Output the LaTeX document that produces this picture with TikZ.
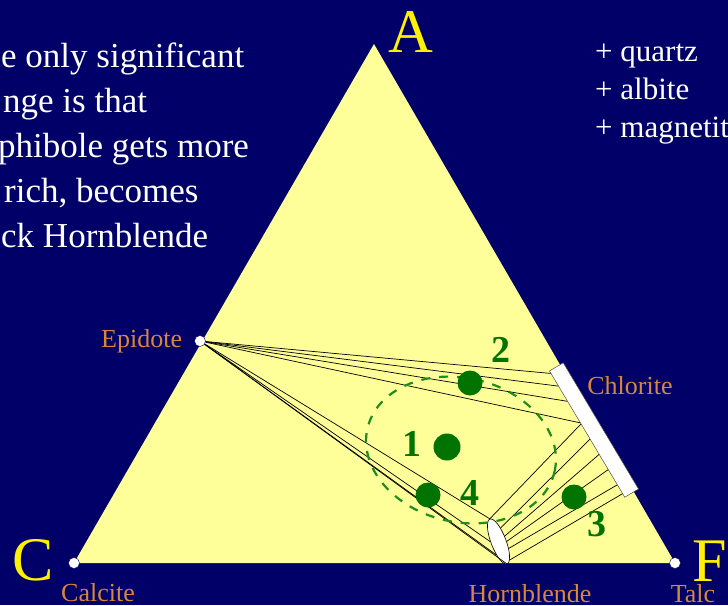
\documentclass[tikz,border=0pt]{standalone}
\usepackage{fontspec}
\setmainfont{Liberation Serif}
\usetikzlibrary{shapes.geometric, calc, positioning}

\definecolor{navy}{RGB}{0,0,104}
\definecolor{paleyellow}{RGB}{255,255,153}
\definecolor{labelorange}{RGB}{215,135,60}
\definecolor{dotgreen}{RGB}{0,115,0}
\definecolor{dashgreen}{RGB}{30,140,30}

\begin{document}
\begin{tikzpicture}[x=1pt, y=-1pt,
    vertex/.style={circle, fill=white, draw=navy, line width=0.4pt, inner sep=0pt, minimum size=11pt},
    corner/.style={text=yellow, font=\fontsize{62}{62}\selectfont, inner sep=0pt},
    mineral/.style={text=labelorange, font=\fontsize{26}{26}\selectfont, inner sep=0pt},
    note/.style={text=white, anchor=base west, inner sep=0pt, font=\fontsize{35}{45}\selectfont},
    extra/.style={text=white, anchor=base west, inner sep=0pt, font=\fontsize{31}{38}\selectfont},
    tie/.style={black, line width=0.7pt},
    rock/.style={circle, fill=dotgreen, inner sep=0pt, minimum size=25pt},
    rocknum/.style={text=dotgreen, font=\bfseries\fontsize{38}{38}\selectfont, inner sep=0pt}]
    \useasboundingbox (0,0) rectangle (728,605);
    \fill[navy] (0,0) rectangle (728,605);

    % the ACF triangle
    \coordinate (A) at (374,44);
    \coordinate (C) at (74,563);
    \coordinate (F) at (675,563);
    \fill[paleyellow] (A) -- (F) -- (C) -- cycle;

    \node[corner] (Alab) at (411,32) {A};
    \node[corner] (Clab) at (33,560) {C};
    \node[corner] (Flab) at (710,561) {F};

    % phases
    \node[vertex] (cal) at (C) {};
    \node[vertex] (tlc) at (F) {};
    \node[vertex] (epi) at (200,341) {};
    \node[draw=black, fill=white, ellipse, inner sep=0pt, line width=0.6pt,
          minimum width=48pt, minimum height=15pt, rotate=-69] (hbl) at (498.5,541.5) {};
    \node[draw=black!70, fill=white, inner sep=0pt, line width=0.5pt,
          minimum width=147pt, minimum height=16pt, rotate=-59.2] (chl) at (594,430) {};

    \node[mineral, left=12pt of epi] (epilab) {Epidote};
    \node[mineral] (chllab) at (630,386) {Chlorite};
    \node[mineral] (callab) at (98,593) {Calcite};
    \node[mineral] (hbllab) at (530,594) {Hornblende};
    \node[mineral] (tlclab) at (693,594) {Talc};

    % tie lines
    \foreach \t in {0.02,0.12,0.24,0.41}
        \draw[tie] (epi) -- ($(chl.south west)!\t!(chl.south east)$);
    \foreach \a in {west,250,330,east}
        \draw[tie] (epi) -- (hbl.\a);
    \foreach \a/\t in {west/0.42,150/0.54,110/0.66,70/0.78,35/0.90,10/0.97}
        \draw[tie] (hbl.\a) -- ($(chl.south west)!\t!(chl.south east)$);

    % field of the rock compositions
    \draw[dashgreen, line width=2.2pt, dash pattern=on 9pt off 9pt,
          shift={(461,450)}, rotate=-13] (0,0) ellipse [x radius=96pt, y radius=72pt];

    \node[rock] (r1) at (447,447) [minimum size=27pt] {};
    \node[rock] (r2) at (470,383) {};
    \node[rock] (r3) at (574,497) {};
    \node[rock] (r4) at (428,495) {};
    \node[rocknum] (n1) at (412,444) {1};
    \node[rocknum] (n2) at (501,350) {2};
    \node[rocknum] (n3) at (597,524) {3};
    \node[rocknum] (n4) at (470,493) {4};

    % text
    \node[note] (note1) at (1,67) {e only significant};
    \node[note] (note2) at (3,112) {nge is that};
    \node[note] (note3) at (-2,157) {phibole gets more};
    \node[note] (note4) at (4,202) {rich, becomes};
    \node[note] (note5) at (1,247) {ck Hornblende};

    \node[extra] (qtz) at (595,61) {+ quartz};
    \node[extra] (alb) at (595,99) {+ albite};
    \node[extra] (mag) at (595,137) {+ magnetit};
\end{tikzpicture}
\end{document}
